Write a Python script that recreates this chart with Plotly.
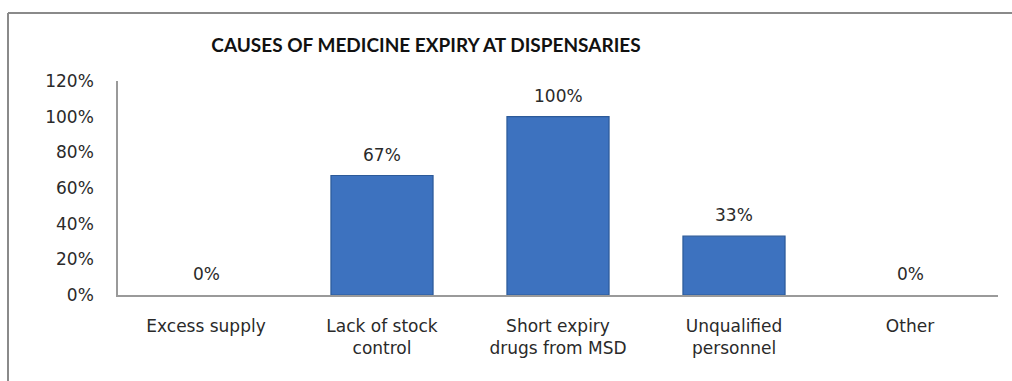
import plotly.graph_objects as go

categories = ["Excess supply", "Lack of stock<br>control", "Short expiry<br>drugs from MSD",
              "Unqualified<br>personnel", "Other"]
shares = [0.00, 0.67, 1.00, 0.33, 0.00]
y_ticks = [0, 0.2, 0.4, 0.6, 0.8, 1.0, 1.2]
y_tick_labels = ["0%", "20%", "40%", "60%", "80%", "100%", "120%"]

W, H = 1012, 381
L, R, T, B = 118, 14, 81, 86
pw, ph = W - L - R, H - T - B

font_main = "DejaVu Sans"
text_color = "#2a2a2a"

fig = go.Figure()
fig.add_trace(go.Bar(
    x=categories, y=shares, width=0.58,
    marker=dict(color="#3D72BF",
                line=dict(color="#2C5A99", width=[0 if v == 0 else 1.2 for v in shares])),
    hoverinfo="skip",
))

# value labels above each bar
for c, v in zip(categories, shares):
    fig.add_annotation(x=c, y=v, text=f"{round(v * 100)}%", showarrow=False,
                       yanchor="bottom", yshift=9,
                       font=dict(family=font_main, size=17, color=text_color))

# outer chart border (top and left edges)
def px_x(p):
    return (p - L) / pw

def px_y(p):
    return (H - B - p) / ph

fig.add_shape(type="line", xref="paper", yref="paper",
              x0=px_x(8), x1=px_x(W + 5), y0=px_y(13), y1=px_y(13),
              line=dict(color="#8a8a8a", width=2))
fig.add_shape(type="line", xref="paper", yref="paper",
              x0=px_x(8), x1=px_x(8), y0=px_y(13), y1=px_y(H + 5),
              line=dict(color="#8a8a8a", width=2))

fig.update_layout(
    width=W, height=H,
    margin=dict(l=L, r=R, t=T, b=B),
    paper_bgcolor="white", plot_bgcolor="white",
    showlegend=False,
    title=dict(text="<b>CAUSES OF MEDICINE EXPIRY AT DISPENSARIES</b>",
               x=426 / W, xanchor="center", xref="container",
               y=1 - 45 / H, yanchor="middle", yref="container",
               font=dict(family="Lato", size=19, color="#111111")),
    xaxis=dict(showline=True, linecolor="#9a9a9a", linewidth=1.5,
               ticks="", showgrid=False,
               tickfont=dict(family=font_main, size=17, color=text_color),
               ticklabelstandoff=15),
    yaxis=dict(range=[0, 1.2], tickvals=y_ticks, ticktext=y_tick_labels,
               showline=True, linecolor="#9a9a9a", linewidth=1.5,
               ticks="", showgrid=False, zeroline=False,
               tickfont=dict(family=font_main, size=17, color=text_color),
               ticklabelstandoff=19),
)

fig.write_html("out.html")
